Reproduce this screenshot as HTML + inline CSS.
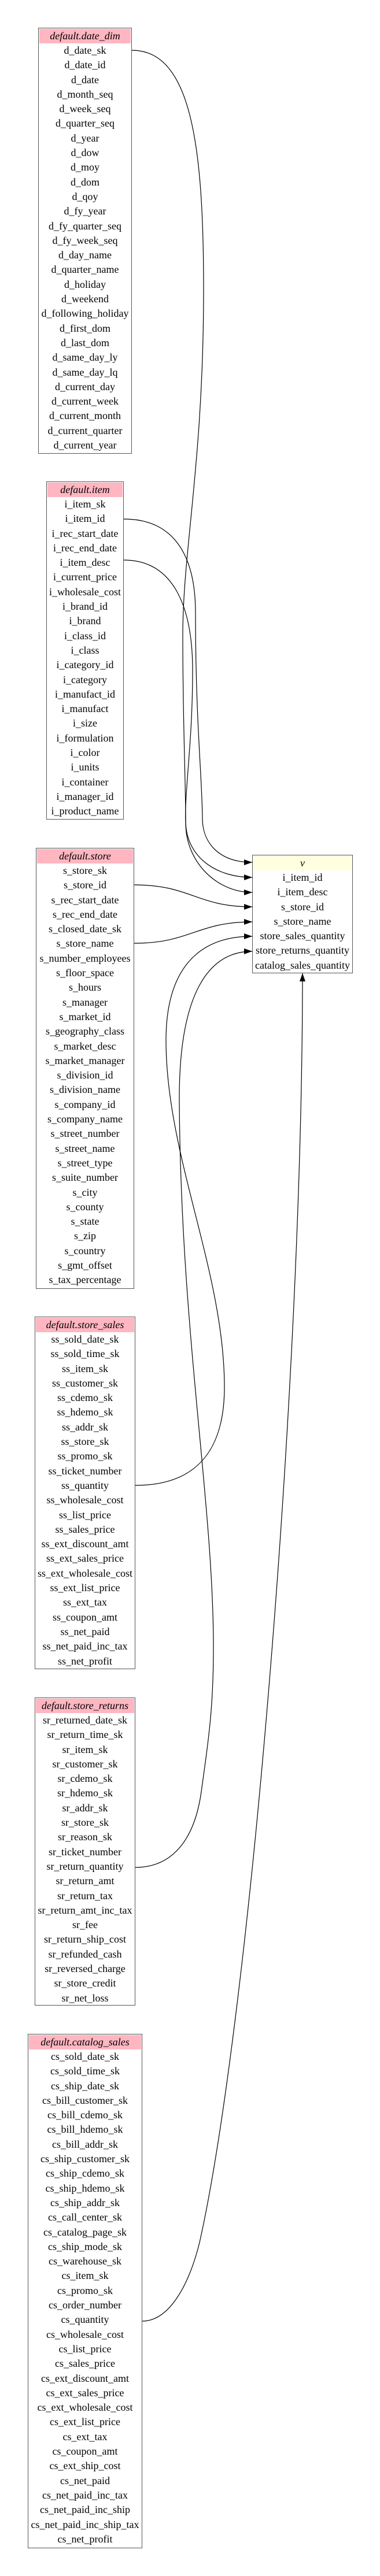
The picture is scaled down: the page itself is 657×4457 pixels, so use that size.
<!DOCTYPE html>
<html><head><meta charset="utf-8">
<style>
html,body{margin:0;padding:0;background:#fff;}
body{width:657px;height:4457px;position:relative;overflow:hidden;font-family:"Liberation Serif","Times New Roman",serif;}
.t{position:absolute;box-sizing:border-box;border:1.5px solid #555;background:#fff;padding:1px 1px 0 1px;}
.h{height:25px;line-height:25px;background:#ffb6c1;text-align:center;font-style:italic;font-size:18px;white-space:nowrap;}
.r{height:25.3px;line-height:25.3px;text-align:center;font-size:18px;white-space:nowrap;}
.v .h{background:#ffffe0;}
svg{position:absolute;left:0;top:0;}
</style></head><body>
<svg width="657" height="4457" viewBox="0 0 657 4457">
<defs><marker id="a" markerWidth="14" markerHeight="10" refX="14" refY="5" orient="auto" markerUnits="userSpaceOnUse"><path d="M0,0 L14,5 L0,10 Z" fill="#000"/></marker></defs>
<g fill="none" stroke="#000" stroke-width="1.2">
<path d="M228,87 C330,87 352,250 352,500 C352,800 316,950 316,1100 C316,1250 321,1350 321,1420 C321,1480 370,1518 436,1518" marker-end="url(#a)"/>
<path d="M214,898 C300,898 338,960 338,1060 C338,1250 350,1350 350,1420 C352,1460 380,1492 436,1492" marker-end="url(#a)"/>
<path d="M214,969 C300,969 333,1050 333,1160 C333,1300 316,1380 322,1440 C330,1500 380,1544 436,1544" marker-end="url(#a)"/>
<path d="M232,1531 C330,1531 340,1569 436,1569" marker-end="url(#a)"/>
<path d="M232,1632 C330,1632 340,1595 436,1595" marker-end="url(#a)"/>
<path d="M234,2570 C330,2570 388,2520 388,2400 C388,2200 287,2000 287,1800 C287,1680 340,1620 436,1620" marker-end="url(#a)"/>
<path d="M234,3231 C300,3231 337,3180 348,3100 C362,3000 369,2950 369,2850 C369,2600 312,2300 310,1900 C310,1720 360,1646 436,1646" marker-end="url(#a)"/>
<path d="M246,4016 C290,4016 325,3960 345,3880 C430,3500 523,2400 523,1684" marker-end="url(#a)"/>
</g>
</svg>

<div class="t" style="left:66px;top:48px;width:162px;height:737px;">
<div class="h">default.date_dim</div>
<div class="r">d_date_sk</div><div class="r">d_date_id</div><div class="r">d_date</div><div class="r">d_month_seq</div><div class="r">d_week_seq</div><div class="r">d_quarter_seq</div><div class="r">d_year</div><div class="r">d_dow</div><div class="r">d_moy</div><div class="r">d_dom</div><div class="r">d_qoy</div><div class="r">d_fy_year</div><div class="r">d_fy_quarter_seq</div><div class="r">d_fy_week_seq</div><div class="r">d_day_name</div><div class="r">d_quarter_name</div><div class="r">d_holiday</div><div class="r">d_weekend</div><div class="r">d_following_holiday</div><div class="r">d_first_dom</div><div class="r">d_last_dom</div><div class="r">d_same_day_ly</div><div class="r">d_same_day_lq</div><div class="r">d_current_day</div><div class="r">d_current_week</div><div class="r">d_current_month</div><div class="r">d_current_quarter</div><div class="r">d_current_year</div>
</div>

<div class="t" style="left:80px;top:833px;width:134px;height:585px;">
<div class="h">default.item</div>
<div class="r">i_item_sk</div><div class="r">i_item_id</div><div class="r">i_rec_start_date</div><div class="r">i_rec_end_date</div><div class="r">i_item_desc</div><div class="r">i_current_price</div><div class="r">i_wholesale_cost</div><div class="r">i_brand_id</div><div class="r">i_brand</div><div class="r">i_class_id</div><div class="r">i_class</div><div class="r">i_category_id</div><div class="r">i_category</div><div class="r">i_manufact_id</div><div class="r">i_manufact</div><div class="r">i_size</div><div class="r">i_formulation</div><div class="r">i_color</div><div class="r">i_units</div><div class="r">i_container</div><div class="r">i_manager_id</div><div class="r">i_product_name</div>
</div>

<div class="t" style="left:62px;top:1467px;width:170px;height:763px;">
<div class="h">default.store</div>
<div class="r">s_store_sk</div><div class="r">s_store_id</div><div class="r">s_rec_start_date</div><div class="r">s_rec_end_date</div><div class="r">s_closed_date_sk</div><div class="r">s_store_name</div><div class="r">s_number_employees</div><div class="r">s_floor_space</div><div class="r">s_hours</div><div class="r">s_manager</div><div class="r">s_market_id</div><div class="r">s_geography_class</div><div class="r">s_market_desc</div><div class="r">s_market_manager</div><div class="r">s_division_id</div><div class="r">s_division_name</div><div class="r">s_company_id</div><div class="r">s_company_name</div><div class="r">s_street_number</div><div class="r">s_street_name</div><div class="r">s_street_type</div><div class="r">s_suite_number</div><div class="r">s_city</div><div class="r">s_county</div><div class="r">s_state</div><div class="r">s_zip</div><div class="r">s_country</div><div class="r">s_gmt_offset</div><div class="r">s_tax_percentage</div>
</div>

<div class="t v" style="left:436px;top:1479px;width:174px;height:205px;">
<div class="h">v</div>
<div class="r">i_item_id</div><div class="r">i_item_desc</div><div class="r">s_store_id</div><div class="r">s_store_name</div><div class="r">store_sales_quantity</div><div class="r">store_returns_quantity</div><div class="r">catalog_sales_quantity</div>
</div>

<div class="t" style="left:60px;top:2278px;width:174px;height:610px;">
<div class="h">default.store_sales</div>
<div class="r">ss_sold_date_sk</div><div class="r">ss_sold_time_sk</div><div class="r">ss_item_sk</div><div class="r">ss_customer_sk</div><div class="r">ss_cdemo_sk</div><div class="r">ss_hdemo_sk</div><div class="r">ss_addr_sk</div><div class="r">ss_store_sk</div><div class="r">ss_promo_sk</div><div class="r">ss_ticket_number</div><div class="r">ss_quantity</div><div class="r">ss_wholesale_cost</div><div class="r">ss_list_price</div><div class="r">ss_sales_price</div><div class="r">ss_ext_discount_amt</div><div class="r">ss_ext_sales_price</div><div class="r">ss_ext_wholesale_cost</div><div class="r">ss_ext_list_price</div><div class="r">ss_ext_tax</div><div class="r">ss_coupon_amt</div><div class="r">ss_net_paid</div><div class="r">ss_net_paid_inc_tax</div><div class="r">ss_net_profit</div>
</div>

<div class="t" style="left:60px;top:2937px;width:174px;height:533px;">
<div class="h">default.store_returns</div>
<div class="r">sr_returned_date_sk</div><div class="r">sr_return_time_sk</div><div class="r">sr_item_sk</div><div class="r">sr_customer_sk</div><div class="r">sr_cdemo_sk</div><div class="r">sr_hdemo_sk</div><div class="r">sr_addr_sk</div><div class="r">sr_store_sk</div><div class="r">sr_reason_sk</div><div class="r">sr_ticket_number</div><div class="r">sr_return_quantity</div><div class="r">sr_return_amt</div><div class="r">sr_return_tax</div><div class="r">sr_return_amt_inc_tax</div><div class="r">sr_fee</div><div class="r">sr_return_ship_cost</div><div class="r">sr_refunded_cash</div><div class="r">sr_reversed_charge</div><div class="r">sr_store_credit</div><div class="r">sr_net_loss</div>
</div>

<div class="t" style="left:48px;top:3519px;width:198px;height:890px;">
<div class="h">default.catalog_sales</div>
<div class="r">cs_sold_date_sk</div><div class="r">cs_sold_time_sk</div><div class="r">cs_ship_date_sk</div><div class="r">cs_bill_customer_sk</div><div class="r">cs_bill_cdemo_sk</div><div class="r">cs_bill_hdemo_sk</div><div class="r">cs_bill_addr_sk</div><div class="r">cs_ship_customer_sk</div><div class="r">cs_ship_cdemo_sk</div><div class="r">cs_ship_hdemo_sk</div><div class="r">cs_ship_addr_sk</div><div class="r">cs_call_center_sk</div><div class="r">cs_catalog_page_sk</div><div class="r">cs_ship_mode_sk</div><div class="r">cs_warehouse_sk</div><div class="r">cs_item_sk</div><div class="r">cs_promo_sk</div><div class="r">cs_order_number</div><div class="r">cs_quantity</div><div class="r">cs_wholesale_cost</div><div class="r">cs_list_price</div><div class="r">cs_sales_price</div><div class="r">cs_ext_discount_amt</div><div class="r">cs_ext_sales_price</div><div class="r">cs_ext_wholesale_cost</div><div class="r">cs_ext_list_price</div><div class="r">cs_ext_tax</div><div class="r">cs_coupon_amt</div><div class="r">cs_ext_ship_cost</div><div class="r">cs_net_paid</div><div class="r">cs_net_paid_inc_tax</div><div class="r">cs_net_paid_inc_ship</div><div class="r">cs_net_paid_inc_ship_tax</div><div class="r">cs_net_profit</div>
</div>
</body></html>
